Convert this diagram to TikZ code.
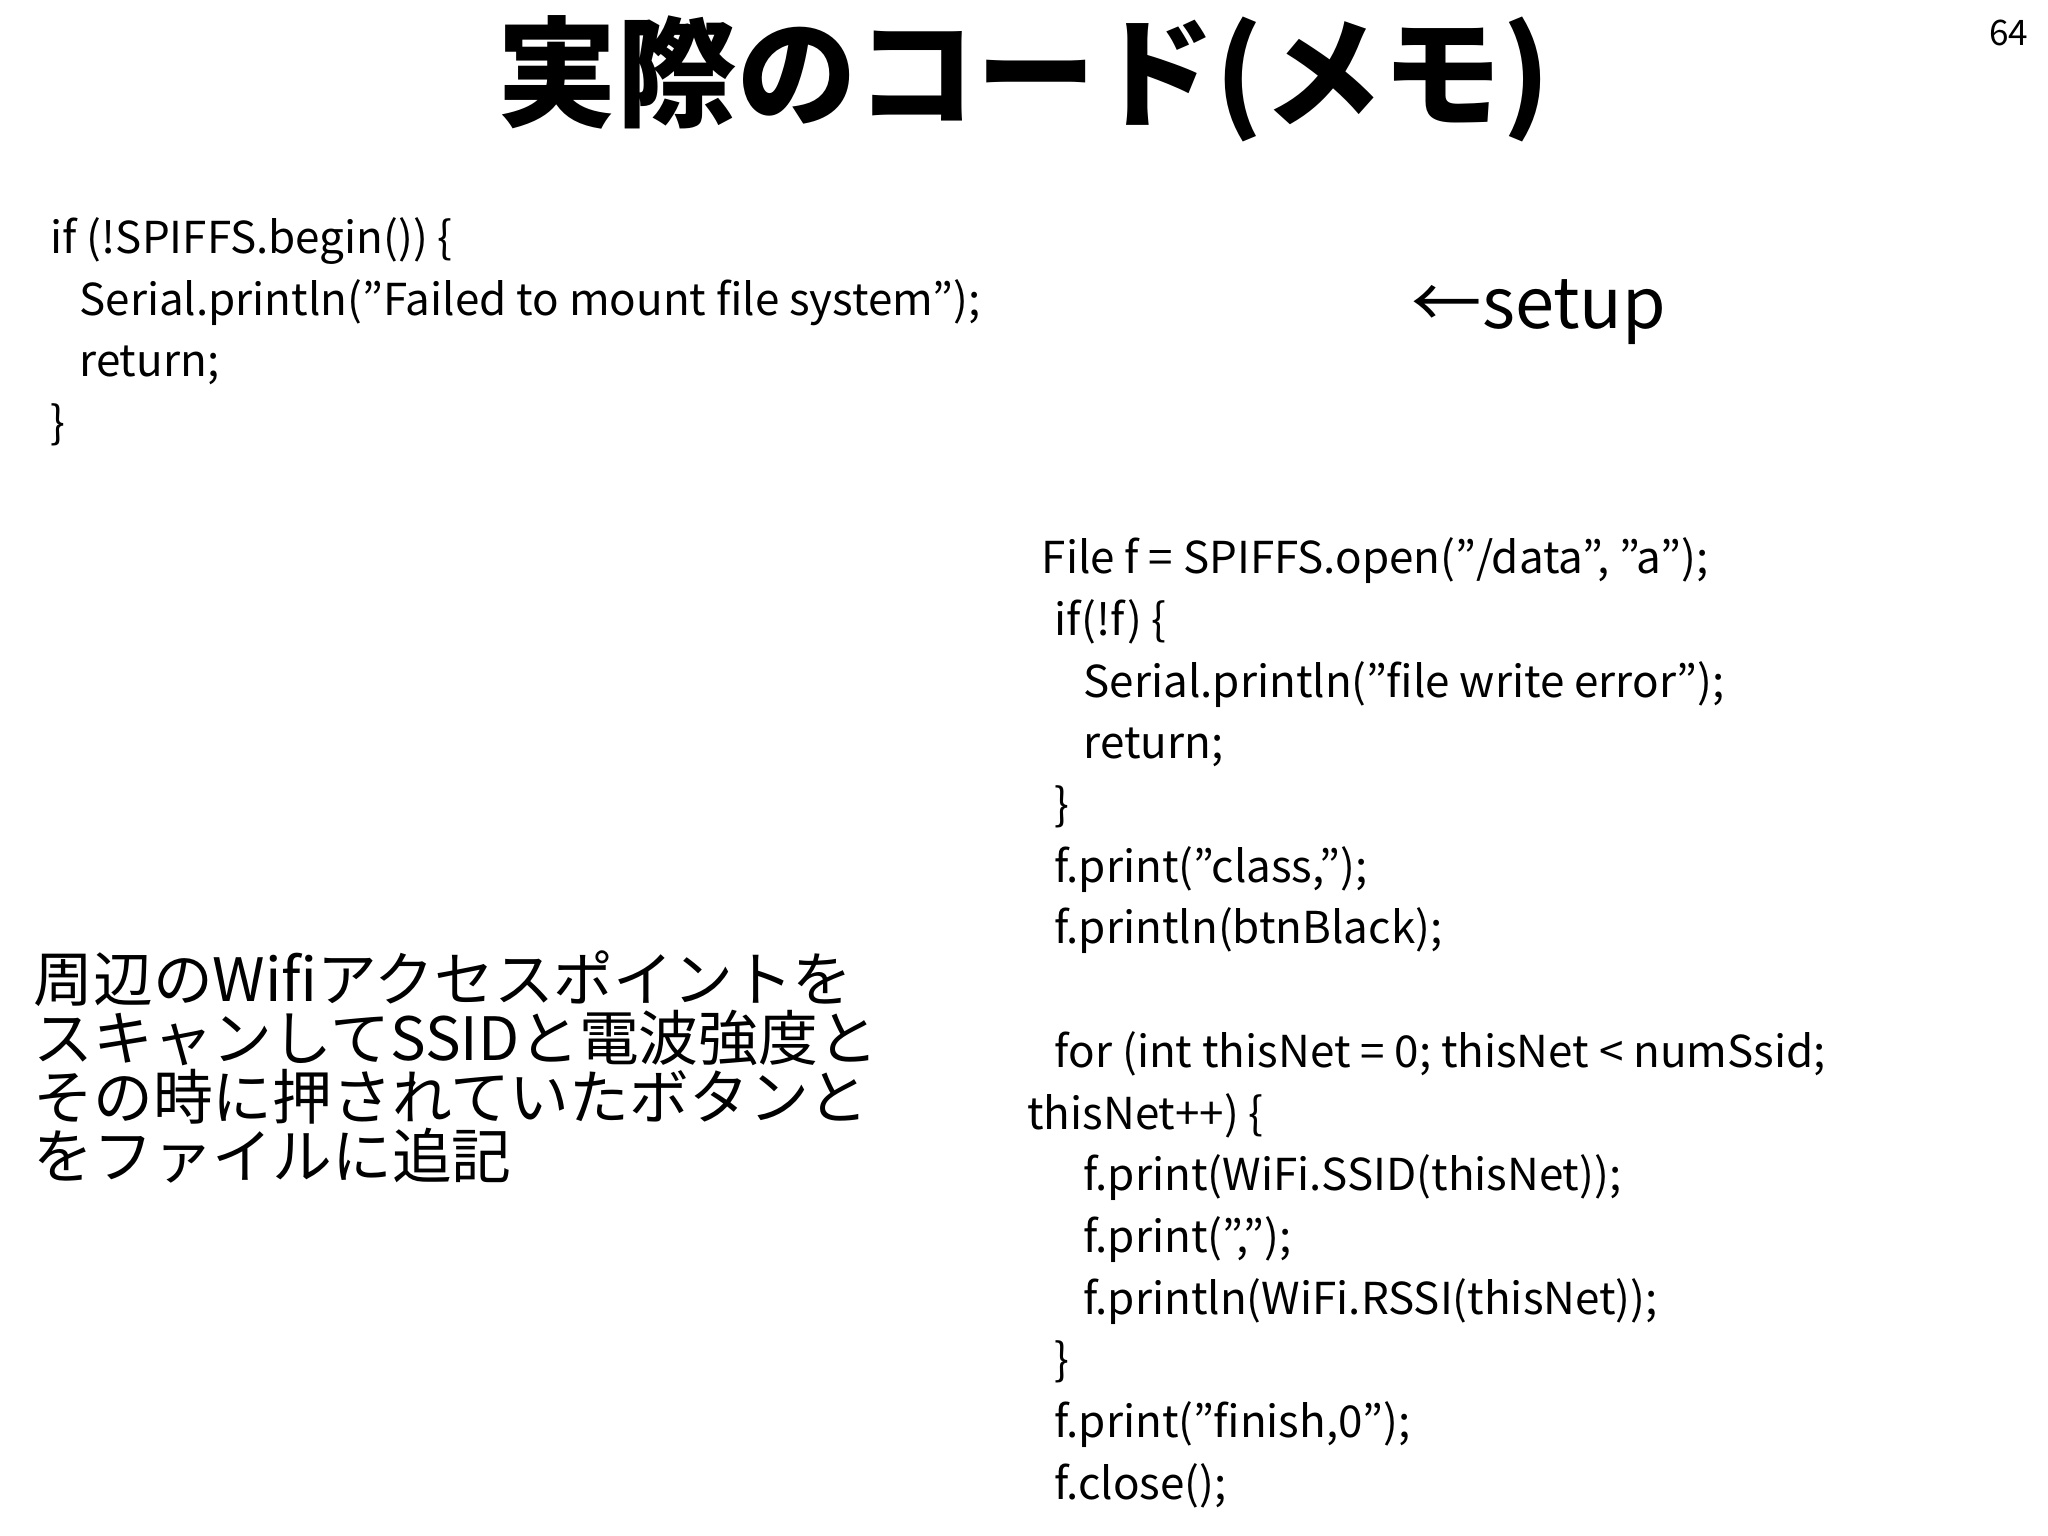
\documentclass[tikz,border=0pt]{standalone}
\usepackage{fontspec}
\setmainfont{Noto Sans CJK JP}
\begin{document}
\begin{tikzpicture}[x=0.013128cm,y=-0.013128cm,
  code/.style={anchor=base west,inner sep=0pt,font=\fontsize{12.5}{15}\selectfont},
  jp/.style={anchor=base west,inner sep=0pt,font=\fontsize{17}{17}\selectfont}]
\useasboundingbox (0,0) rectangle (1560,1170);
\node[anchor=center,inner sep=0pt,font=\fontsize{34}{34}\bfseries\selectfont] (title) at (780,60) {実際のコード(メモ)};
\node[anchor=center,inner sep=0pt,font=\fontsize{10}{10}\selectfont] (pg) at (1530,25) {64};
% left code
\node[code] (l1) at (38,193) {if (!SPIFFS.begin()) \{};
\node[code] (l2) at (60,240) {Serial.println("Failed to mount file system");};
\node[code] (l3) at (60,287) {return;};
\node[code] (l4) at (38,334) {\}};
\node[anchor=base west,inner sep=0pt,font=\fontsize{20}{20}\selectfont] (setup) at (1075,250) {←setup};
% right code
\node[code] (r1) at (793,437) {File f = SPIFFS.open("/data", "a");};
\node[code] (r2) at (803,484) {if(!f) \{};
\node[code] (r3) at (825,531) {Serial.println("file write error");};
\node[code] (r4) at (825,578) {return;};
\node[code] (r5) at (803,625) {\}};
\node[code] (r6) at (803,672) {f.print("class,");};
\node[code] (r7) at (803,719) {f.println(btnBlack);};
\node[code] (r8) at (803,813) {for (int thisNet = 0; thisNet < numSsid;};
\node[code] (r9) at (782,860) {thisNet++) \{};
\node[code] (r10) at (825,907) {f.print(WiFi.SSID(thisNet));};
\node[code] (r11) at (825,954) {f.print(",");};
\node[code] (r12) at (825,1001) {f.println(WiFi.RSSI(thisNet));};
\node[code] (r13) at (803,1048) {\}};
\node[code] (r14) at (803,1095) {f.print("finish,0");};
\node[code] (r15) at (803,1142) {f.close();};
% japanese
\node[jp] (j1) at (25,763) {周辺のWifiアクセスポイントを};
\node[jp] (j2) at (25,808) {スキャンしてSSIDと電波強度と};
\node[jp] (j3) at (25,853) {その時に押されていたボタンと};
\node[jp] (j4) at (25,898) {をファイルに追記};
\end{tikzpicture}
\end{document}
